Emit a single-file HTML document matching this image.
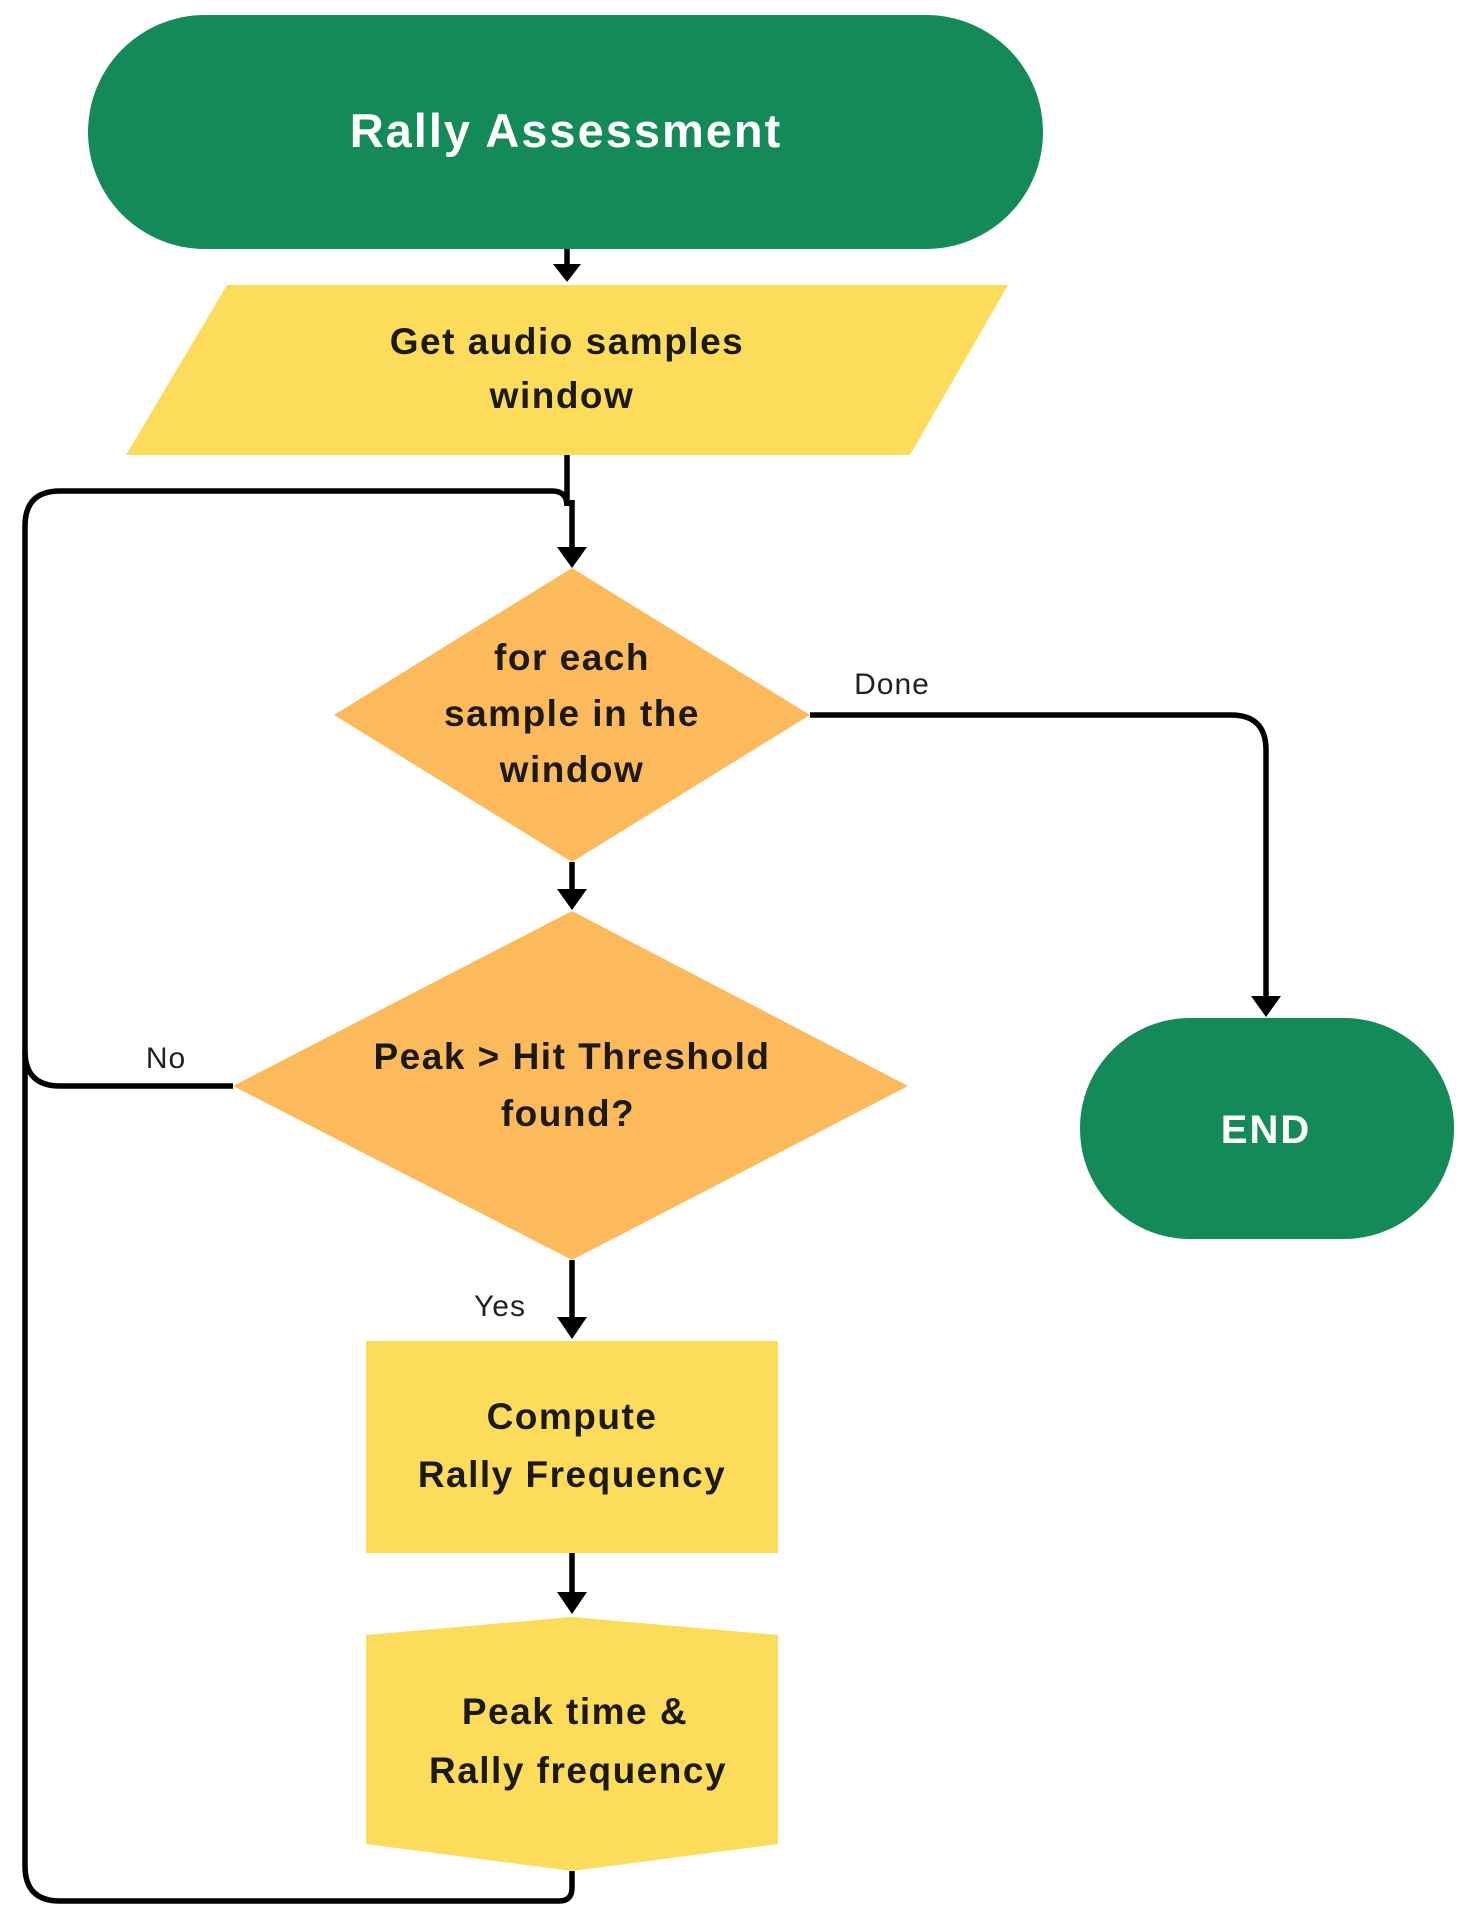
<!DOCTYPE html>
<html><head><meta charset="utf-8"><style>
html,body{margin:0;padding:0;background:#fff;}
svg{display:block;}
text{font-family:"Liberation Sans",sans-serif;}
.b{font-weight:bold;fill:#1c1a10;font-size:37px;text-anchor:middle;letter-spacing:1.5px;}
.w{font-weight:bold;fill:#fff;text-anchor:middle;letter-spacing:2px;}
.l{fill:#222;font-size:30px;text-anchor:middle;letter-spacing:1px;}
</style></head><body>
<svg width="1472" height="1927" viewBox="0 0 1472 1927" xmlns="http://www.w3.org/2000/svg">
<g fill="none" stroke="#000" stroke-width="5.5" stroke-linejoin="round">
<path d="M572,1871 V1888 Q572,1901 559,1901 H60 Q25,1901 25,1866 V526 Q25,491 60,491 H552 Q567,491 567,506"/>
<path d="M233,1086 H60 Q25,1086 25,1051"/>
<path d="M810,715 H1231 Q1266,715 1266,750 V1000"/>
<line x1="567" y1="249" x2="567" y2="268"/>
<line x1="567" y1="455" x2="567" y2="500"/>
<line x1="572" y1="500" x2="572" y2="550"/>
<line x1="572" y1="862" x2="572" y2="892"/>
<line x1="572" y1="1260" x2="572" y2="1320"/>
<line x1="572" y1="1553" x2="572" y2="1594"/>
</g>
<g fill="#000">
<path d="M553,264 L581,264 L567,282 Z"/>
<path d="M557,547 L587,547 L572,568 Z"/>
<path d="M557,889 L587,889 L572,910 Z"/>
<path d="M557,1317 L587,1317 L572,1339 Z"/>
<path d="M557,1592 L587,1592 L572,1614 Z"/>
<path d="M1251,996 L1281,996 L1266,1017 Z"/>
</g>
<rect x="88" y="15" width="955" height="234" rx="117" fill="#138a57"/>
<text class="w" x="566" y="147" font-size="47">Rally Assessment</text>
<polygon points="227,285 1008,285 910,455 126,455" fill="#fddc5c"/>
<text class="b" x="567" y="354">Get audio samples</text>
<text class="b" x="562" y="408">window</text>
<polygon points="572,568 810,715 572,862 334,715" fill="#fdba5c"/>
<text class="b" x="572" y="670">for each</text>
<text class="b" x="572" y="726">sample in the</text>
<text class="b" x="572" y="782">window</text>
<polygon points="572,911 908,1086 572,1260 233,1086" fill="#fdba5c"/>
<text class="b" x="572" y="1069">Peak &gt; Hit Threshold</text>
<text class="b" x="568" y="1126">found?</text>
<rect x="1080" y="1018" width="374" height="221" rx="110" fill="#138a57"/>
<text class="w" x="1266" y="1143" font-size="40">END</text>
<rect x="366" y="1341" width="412" height="212" fill="#fddc5c"/>
<text class="b" x="572" y="1429">Compute</text>
<text class="b" x="572" y="1487">Rally Frequency</text>
<polygon points="366,1635 572,1617 778,1635 778,1844 572,1871 366,1844" fill="#fddc5c"/>
<text class="b" x="575" y="1724">Peak time &amp;</text>
<text class="b" x="578" y="1783">Rally frequency</text>
<text class="l" x="166" y="1068">No</text>
<text class="l" x="892" y="694">Done</text>
<text class="l" x="500" y="1316">Yes</text>
</svg>
</body></html>
